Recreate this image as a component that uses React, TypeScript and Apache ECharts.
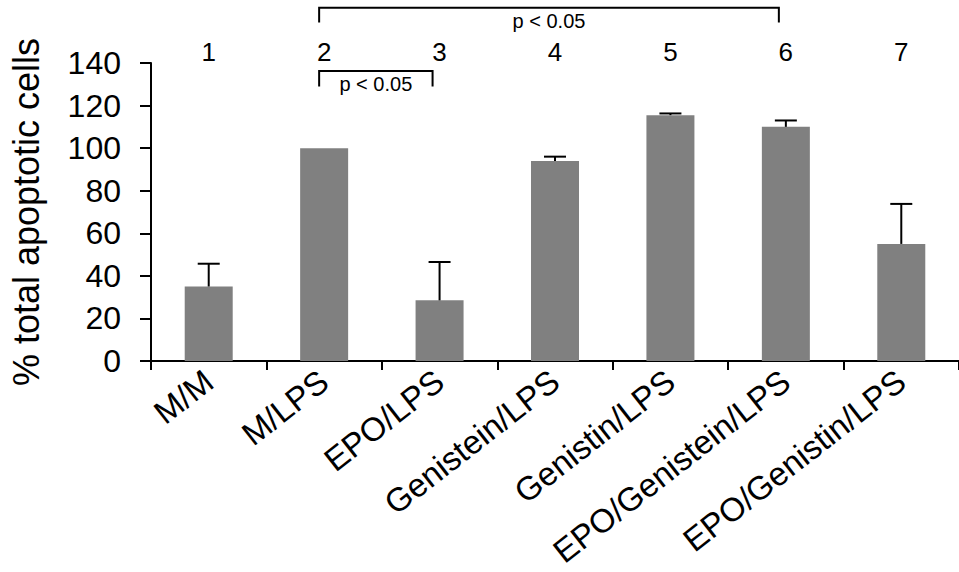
import React, { useEffect, useRef } from "react";
import * as echarts from "echarts";

const categories = ["M/M", "M/LPS", "EPO/LPS", "Genistein/LPS", "Genistin/LPS", "EPO/Genistein/LPS", "EPO/Genistin/LPS"];
const groupNumbers = ["1", "2", "3", "4", "5", "6", "7"];
const values = [35, 100, 28.5, 94, 115.5, 110, 55];
const errors = [10.7, 0, 18, 2, 0.8, 3, 18.8];
const yMin = 0;
const yMax = 140;
const yInterval = 20;
const bracketFrom = [1, 1];
const bracketTo = [2, 5];
const bracketTop = [136.2, 166];
const bracketLeg = [129, 159];
const bracketLabels = ["p < 0.05", "p < 0.05"];

const FONT = '"Liberation Sans", Arial, Helvetica, sans-serif';

export default function App() {
  const ref = useRef<HTMLDivElement>(null);
  useEffect(() => {
    if (!ref.current) return;
    const chart = echarts.init(ref.current, null, { renderer: "svg" });
    const errData = values.map((v, i) => [i, v, v + errors[i], errors[i]]);
    const bracketData = bracketFrom.map((f, i) => [f, bracketTo[i], bracketTop[i], bracketLeg[i], i]);
    chart.setOption({
      animation: false,
      textStyle: { fontFamily: FONT },
      grid: { left: 149, right: -3, top: 63, bottom: 211 },
      xAxis: [
        {
          type: "category",
          data: categories,
          axisLine: { show: true, lineStyle: { color: "#000", width: 2 } },
          axisTick: { show: true, length: 9, lineStyle: { color: "#000", width: 2 } },
          axisLabel: { interval: 0, rotate: 38, fontSize: 33, color: "#000", margin: 16, fontFamily: FONT },
        },
        {
          type: "category",
          data: groupNumbers,
          position: "top",
          axisLine: { show: false },
          axisTick: { show: false },
          axisLabel: { interval: 0, fontSize: 26, color: "#000", margin: -2, fontFamily: FONT },
        },
      ],
      yAxis: {
        type: "value",
        min: yMin,
        max: yMax,
        interval: yInterval,
        name: "% total apoptotic cells",
        nameLocation: "middle",
        nameRotate: 90,
        nameGap: 107,
        nameTextStyle: { fontSize: 36, color: "#000", fontFamily: FONT },
        axisLine: { show: true, lineStyle: { color: "#000", width: 2 } },
        axisTick: { show: true, length: 11, lineStyle: { color: "#000", width: 2 } },
        axisLabel: { fontSize: 32, color: "#000", margin: 30, fontFamily: FONT },
        splitLine: { show: false },
      },
      series: [
        {
          type: "bar",
          data: values,
          barWidth: 48,
          itemStyle: { color: "#808080" },
          z: 2,
        },
        {
          type: "custom",
          data: errData,
          z: 3,
          renderItem: (params: any, api: any) => {
            if (api.value(3) <= 0) return { type: "group", children: [] };
            const base = api.coord([api.value(0), api.value(1)]);
            const top = api.coord([api.value(0), api.value(2)]);
            const half = 11;
            return {
              type: "group",
              children: [
                {
                  type: "line",
                  shape: { x1: base[0], y1: base[1], x2: top[0], y2: top[1] },
                  style: { stroke: "#000", lineWidth: 2 },
                },
                {
                  type: "line",
                  shape: { x1: top[0] - half, y1: top[1], x2: top[0] + half, y2: top[1] },
                  style: { stroke: "#000", lineWidth: 2 },
                },
              ],
            };
          },
        },
        {
          type: "custom",
          data: bracketData,
          clip: false,
          z: 4,
          renderItem: (params: any, api: any) => {
            const a = api.coord([api.value(0), api.value(2)]);
            const b = api.coord([api.value(1), api.value(2)]);
            const legA = api.coord([api.value(0), api.value(3)]);
            const x1 = a[0] - 5;
            const x2 = b[0] - 7;
            const y = a[1];
            const yl = legA[1];
            const label = bracketLabels[api.value(4)];
            return {
              type: "group",
              children: [
                {
                  type: "polyline",
                  shape: { points: [[x1, yl], [x1, y], [x2, y], [x2, yl]] },
                  style: { stroke: "#000", lineWidth: 2, fill: "none" },
                },
                {
                  type: "text",
                  x: (x1 + x2) / 2,
                  y: y + 13,
                  style: {
                    text: label,
                    fontSize: 20,
                    fontFamily: FONT,
                    fill: "#000",
                    align: "center",
                    verticalAlign: "middle",
                  },
                },
              ],
            };
          },
        },
      ],
    });
    return () => chart.dispose();
  }, []);
  return <div ref={ref} style={{ position: "absolute", left: 0, top: 0, width: 959, height: 572 }} />;
}
